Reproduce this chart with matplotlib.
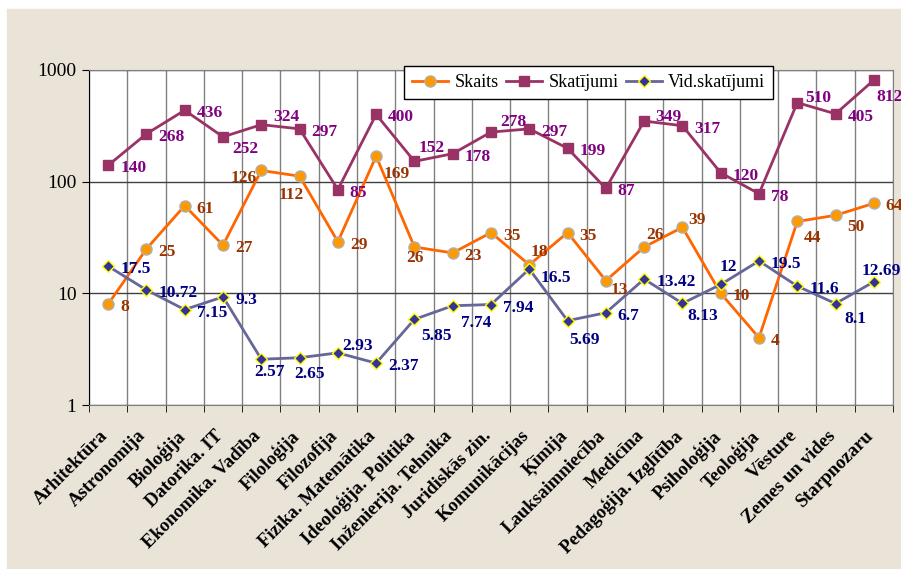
import matplotlib.pyplot as plt
import matplotlib.transforms as mtransforms
import numpy as np

categories = ["Arhitektūra", "Astronomija", "Bioloģija", "Datorika. IT",
              "Ekonomika. Vadība", "Filoloģija", "Filozofija",
              "Fizika. Matemātika", "Ideoloģija. Politika",
              "Inženierija. Tehnika", "Juridiskās zin.", "Komunikācijas",
              "Ķīmija", "Lauksaimniecība", "Medicīna",
              "Pedagoģija. Izglītība", "Psiholoģija", "Teoloģija",
              "Vēsture", "Zemes un vides", "Starpnozaru"]
skaits = [8, 25, 61, 27, 126, 112, 29, 169, 26, 23, 35, 18, 35, 13, 26, 39,
          10, 4, 44, 50, 64]
skatijumi = [140, 268, 436, 252, 324, 297, 85, 400, 152, 178, 278, 297, 199,
             87, 349, 317, 120, 78, 510, 405, 812]
vid_skatijumi = [17.5, 10.72, 7.15, 9.3, 2.57, 2.65, 2.93, 2.37, 5.85, 7.74,
                 7.94, 16.5, 5.69, 6.7, 13.42, 8.13, 12, 19.5, 11.6, 8.1,
                 12.69]
labels_skaits = ["8", "25", "61", "27", "126", "112", "29", "169", "26", "23",
                 "35", "18", "35", "13", "26", "39", "10", "4", "44", "50", "64"]
labels_skat = [str(v) for v in skatijumi]
labels_vid = ["17.5", "10.72", "7.15", "9.3", "2.57", "2.65", "2.93", "2.37",
              "5.85", "7.74", "7.94", "16.5", "5.69", "6.7", "13.42", "8.13",
              "12", "19.5", "11.6", "8.1", "12.69"]

# label offsets in pixels (dx right, dy down) of the text's left/middle
default_off = (12, 3)
off_skaits = {4: (-31, 8), 5: (-21, 19), 7: (7, 18), 8: (-8, 11), 11: (1, -13),
              13: (5, 9), 14: (2, -12), 15: (6, -7), 18: (6, 17), 19: (12, 12)}
off_skat = {3: (9, 12), 4: (12, -8), 8: (4, -13), 10: (9, -10), 14: (11, -4),
            18: (8, -5), 20: (3, 17)}
off_vid = {4: (-7, 13), 5: (-5, 16), 6: (4, -7), 8: (7, 17), 9: (8, 17),
           11: (11, 9), 12: (2, 19), 15: (5, 13), 16: (-1, -17), 19: (9, 15),
           20: (-12, -11)}

bg = "#e9e3d8"
serif = ["Liberation Serif", "DejaVu Serif"]
plt.rcParams['font.family'] = serif

fig = plt.figure(figsize=(9.01, 5.69), dpi=100, facecolor="white")
fig.patches.append(plt.Rectangle((7 / 901, 0), 1, 1 - 9 / 569,
                                 transform=fig.transFigure, color=bg, zorder=-5))
ax = fig.add_axes([89 / 901, 1 - 405 / 569, 804 / 901, 335 / 569])
ax.set_facecolor("white")

x = np.arange(len(categories))
ax.plot(x, skaits, color="#ff6600", lw=2, marker="o", ms=8,
        mfc="#ff9900", mec="#b0b0b0", mew=1, label="Skaits", zorder=3)
ax.plot(x, skatijumi, color="#993366", lw=2, marker="s", ms=7.5,
        mfc="#993366", mec="#993366", label="Skatījumi", zorder=3)
ax.plot(x, vid_skatijumi, color="#666699", lw=2, marker="D", ms=6.5,
        mfc="#333399", mec="#ffff00", mew=1, label="Vid.skatījumi", zorder=3)

for vals, labs, offs, col in [(skaits, labels_skaits, off_skaits, "#993300"),
                               (skatijumi, labels_skat, off_skat, "#800080"),
                               (vid_skatijumi, labels_vid, off_vid, "#000080")]:
    for i, (v, t) in enumerate(zip(vals, labs)):
        dx, dy = offs.get(i, default_off)
        ax.annotate(t, (i, v), xytext=(dx, -dy), textcoords="offset pixels",
                    ha="left", va="center", color=col, fontsize=12.5,
                    fontweight="bold", zorder=4, annotation_clip=False)

ax.set_yscale("log")
ax.set_ylim(1, 1000)
ax.set_xlim(-0.5, len(categories) - 0.5)
ax.set_yticks([1, 10, 100, 1000])
ax.set_yticklabels(["1", "10", "100", "1000"], fontsize=14)
ax.minorticks_off()
ax.set_xticks(x)
ax.set_xticklabels(categories, rotation=45, ha="right", va="top",
                   rotation_mode="anchor", fontsize=13.5, fontweight="bold")
ax.tick_params(axis="x", length=0, pad=16)
ax.set_xticks(np.arange(len(categories) + 1) - 0.5, minor=True)
ax.tick_params(axis="x", which="minor", length=5, color="black", direction="out")
ax.tick_params(axis="y", length=5, color="black", direction="out", pad=4)
ax.grid(True, axis="x", which="minor", color="#808080", lw=1)
ax.grid(True, axis="y", which="major", color="#404040", lw=1)
for s in ["top", "right"]:
    ax.spines[s].set_color("#808080")
ax.spines["left"].set_color("black")
ax.spines["bottom"].set_color("#808080")

# nudge the slanted category labels a little to the left
shift = mtransforms.ScaledTranslation(-9 / 100, 0, fig.dpi_scale_trans)
for lab in ax.get_xticklabels():
    lab.set_transform(lab.get_transform() + shift)

leg = ax.legend(loc="upper left", bbox_to_anchor=(404 / 901, 1 - 66 / 569),
                bbox_transform=fig.transFigure, ncol=3, fontsize=13,
                frameon=True, fancybox=False, framealpha=1, edgecolor="black",
                handlelength=2.0, columnspacing=0.4, handletextpad=0.35,
                borderpad=0.45, borderaxespad=0)
leg.get_frame().set_linewidth(1)
leg.set_zorder(5)

fig.savefig("out.png", dpi=100, facecolor=fig.get_facecolor())
